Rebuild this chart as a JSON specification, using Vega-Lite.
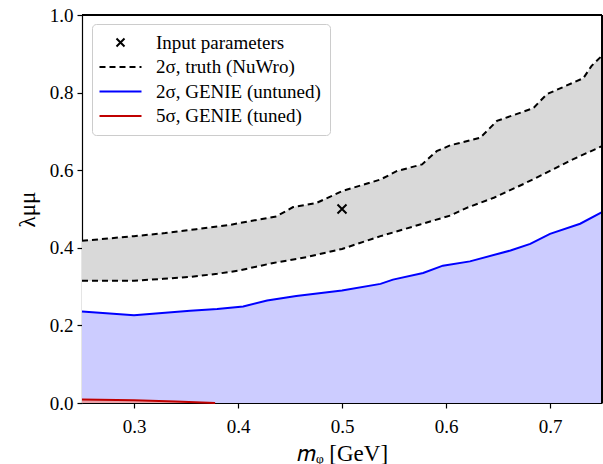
{
  "$schema": "https://vega.github.io/schema/vega-lite/v6.json",
  "width": 520,
  "height": 388,
  "autosize": {"type": "none"},
  "padding": {"left": 82, "top": 15, "right": 1, "bottom": 61},
  "config": {
    "font": "Liberation Serif",
    "view": {"stroke": null},
    "axis": {"grid": false, "labelFont": "Liberation Serif", "titleFont": "Liberation Serif", "domainColor": "black", "tickColor": "black", "labelColor": "black", "titleColor": "black", "labelFontSize": 19, "titleFontSize": 23, "titleFontWeight": "normal", "tickSize": 5, "domainWidth": 1.2, "tickWidth": 1.2, "zindex": 1},
    "legend": {"labelFont": "Liberation Serif", "labelLimit": 0}
  },
  "data": {
    "values": [
      {"m": 0.25, "v": 0.418, "c": "upper"},
      {"m": 0.30, "v": 0.430, "c": "upper"},
      {"m": 0.33, "v": 0.438, "c": "upper"},
      {"m": 0.36, "v": 0.448, "c": "upper"},
      {"m": 0.39, "v": 0.458, "c": "upper"},
      {"m": 0.41, "v": 0.468, "c": "upper"},
      {"m": 0.437, "v": 0.481, "c": "upper"},
      {"m": 0.453, "v": 0.505, "c": "upper"},
      {"m": 0.475, "v": 0.515, "c": "upper"},
      {"m": 0.50, "v": 0.546, "c": "upper"},
      {"m": 0.537, "v": 0.576, "c": "upper"},
      {"m": 0.553, "v": 0.598, "c": "upper"},
      {"m": 0.577, "v": 0.615, "c": "upper"},
      {"m": 0.591, "v": 0.649, "c": "upper"},
      {"m": 0.604, "v": 0.664, "c": "upper"},
      {"m": 0.633, "v": 0.684, "c": "upper"},
      {"m": 0.649, "v": 0.727, "c": "upper"},
      {"m": 0.684, "v": 0.760, "c": "upper"},
      {"m": 0.697, "v": 0.796, "c": "upper"},
      {"m": 0.732, "v": 0.837, "c": "upper"},
      {"m": 0.740, "v": 0.869, "c": "upper"},
      {"m": 0.75, "v": 0.895, "c": "upper"},
      {"m": 0.25, "v": 0.315, "c": "lower"},
      {"m": 0.30, "v": 0.315, "c": "lower"},
      {"m": 0.328, "v": 0.320, "c": "lower"},
      {"m": 0.354, "v": 0.325, "c": "lower"},
      {"m": 0.38, "v": 0.333, "c": "lower"},
      {"m": 0.40, "v": 0.341, "c": "lower"},
      {"m": 0.434, "v": 0.361, "c": "lower"},
      {"m": 0.466, "v": 0.376, "c": "lower"},
      {"m": 0.50, "v": 0.397, "c": "lower"},
      {"m": 0.537, "v": 0.430, "c": "lower"},
      {"m": 0.575, "v": 0.460, "c": "lower"},
      {"m": 0.604, "v": 0.483, "c": "lower"},
      {"m": 0.62, "v": 0.503, "c": "lower"},
      {"m": 0.646, "v": 0.529, "c": "lower"},
      {"m": 0.675, "v": 0.565, "c": "lower"},
      {"m": 0.703, "v": 0.602, "c": "lower"},
      {"m": 0.722, "v": 0.628, "c": "lower"},
      {"m": 0.75, "v": 0.662, "c": "lower"},
      {"m": 0.25, "v": 0.236, "c": "blue"},
      {"m": 0.30, "v": 0.226, "c": "blue"},
      {"m": 0.354, "v": 0.238, "c": "blue"},
      {"m": 0.38, "v": 0.242, "c": "blue"},
      {"m": 0.405, "v": 0.249, "c": "blue"},
      {"m": 0.428, "v": 0.264, "c": "blue"},
      {"m": 0.456, "v": 0.276, "c": "blue"},
      {"m": 0.488, "v": 0.286, "c": "blue"},
      {"m": 0.50, "v": 0.290, "c": "blue"},
      {"m": 0.537, "v": 0.307, "c": "blue"},
      {"m": 0.549, "v": 0.318, "c": "blue"},
      {"m": 0.578, "v": 0.335, "c": "blue"},
      {"m": 0.597, "v": 0.354, "c": "blue"},
      {"m": 0.623, "v": 0.365, "c": "blue"},
      {"m": 0.662, "v": 0.393, "c": "blue"},
      {"m": 0.681, "v": 0.410, "c": "blue"},
      {"m": 0.70, "v": 0.436, "c": "blue"},
      {"m": 0.729, "v": 0.462, "c": "blue"},
      {"m": 0.75, "v": 0.492, "c": "blue"},
      {"m": 0.25, "v": 0.009, "c": "red"},
      {"m": 0.30, "v": 0.007, "c": "red"},
      {"m": 0.34, "v": 0.004, "c": "red"},
      {"m": 0.378, "v": 0.0, "c": "red"}
    ]
  },
  "encoding": {
    "x": {"field": "m", "type": "quantitative", "scale": {"domain": [0.25, 0.75], "nice": false, "zero": false},
      "axis": {"orient": "bottom", "values": [0.3, 0.4, 0.5, 0.6, 0.7], "format": ".1f", "title": "𝑚ᵩ [GeV]", "labelFont": "Liberation Serif", "titleFont": "Liberation Serif", "labelPadding": 9, "titlePadding": 6}},
    "y": {"field": "v", "type": "quantitative", "scale": {"domain": [0, 1], "nice": false},
      "axis": {"orient": "left", "values": [0, 0.2, 0.4, 0.6, 0.8, 1.0], "format": ".1f", "title": "λμμ", "labelFont": "Liberation Serif", "titleFont": "Liberation Serif", "labelPadding": 4, "titlePadding": 10}}
  },
  "layer": [
    {"transform": [{"filter": "datum.c === 'upper'"}], "mark": {"type": "area", "fill": "#d9d9d9"}, "encoding": {"y2": {"datum": 0}}},
    {"transform": [{"filter": "datum.c === 'lower'"}], "mark": {"type": "area", "fill": "white"}, "encoding": {"y2": {"datum": 0}}},
    {"transform": [{"filter": "datum.c === 'blue'"}], "mark": {"type": "area", "fill": "#ccccff"}, "encoding": {"y2": {"datum": 0}}},
    {"transform": [{"filter": "datum.c === 'red'"}], "mark": {"type": "area", "fill": "#e8a0a8"}, "encoding": {"y2": {"datum": 0}}},
    {"transform": [{"filter": "datum.c === 'upper'"}], "mark": {"type": "line", "strokeDash": [6, 4], "strokeWidth": 2},
      "encoding": {"color": {"datum": "2σ, truth (NuWro)", "type": "nominal",
        "scale": {"domain": ["Input parameters", "2σ, truth (NuWro)", "2σ, GENIE (untuned)", "5σ, GENIE (tuned)"], "range": ["black", "black", "#0000ff", "#c00000"]},
        "legend": {"orient": "none", "legendX": 10, "legendY": 9, "title": null, "padding": 9, "fillColor": "rgba(255,255,255,0.8)", "strokeColor": "#cccccc", "cornerRadius": 4,
          "labelFont": "Liberation Serif", "labelFontSize": 19, "labelColor": "black", "labelLimit": 0, "symbolSize": 100, "symbolStrokeWidth": 2, "symbolOffset": 10, "labelOffset": 26, "rowPadding": 4.5,
          "encode": {"symbols": {"update": {
            "shape": {"signal": "datum.value === 'Input parameters' ? 'M-0.8,-0.8L0.8,0.8M-0.8,0.8L0.8,-0.8' : 'M-4.2,0H4.2'"},
            "strokeDash": {"signal": "datum.value === '2σ, truth (NuWro)' ? [6, 4] : []"},
            "fill": {"value": "transparent"},
            "strokeWidth": {"value": 2},
            "opacity": {"value": 1}
          }}}}}}},
    {"transform": [{"filter": "datum.c === 'lower'"}], "mark": {"type": "line", "strokeDash": [6, 4], "strokeWidth": 2},
      "encoding": {"color": {"datum": "2σ, truth (NuWro)", "type": "nominal"}}},
    {"transform": [{"filter": "datum.c === 'blue'"}], "mark": {"type": "line", "strokeWidth": 2},
      "encoding": {"color": {"datum": "2σ, GENIE (untuned)", "type": "nominal"}}},
    {"transform": [{"filter": "datum.c === 'red'"}], "mark": {"type": "line", "strokeWidth": 2},
      "encoding": {"color": {"datum": "5σ, GENIE (tuned)", "type": "nominal"}}},
    {"data": {"values": [{"m": 0.5, "v": 0.5}]},
      "mark": {"type": "point", "shape": "M-1,-1L1,1M-1,1L1,-1", "size": 81, "strokeWidth": 2, "opacity": 1, "filled": false},
      "encoding": {"color": {"datum": "Input parameters", "type": "nominal"}}},
    {"mark": {"type": "rule", "color": "black", "strokeWidth": 1.2}, "encoding": {"x": {"datum": 0.75}, "y": {"datum": 0}, "y2": {"datum": 1}}},
    {"mark": {"type": "rule", "color": "black", "strokeWidth": 1.2}, "encoding": {"x": {"datum": 0.25}, "x2": {"datum": 0.75}, "y": {"datum": 1}}},
    {"data": {"values": [{"t": 0.3}, {"t": 0.4}, {"t": 0.5}, {"t": 0.6}, {"t": 0.7}]},
      "mark": {"type": "rule", "color": "black", "strokeWidth": 1.2, "clip": false},
      "encoding": {"x": {"field": "t", "type": "quantitative"}, "y": {"datum": 1}, "y2": {"datum": 1.013}}}
  ]
}
